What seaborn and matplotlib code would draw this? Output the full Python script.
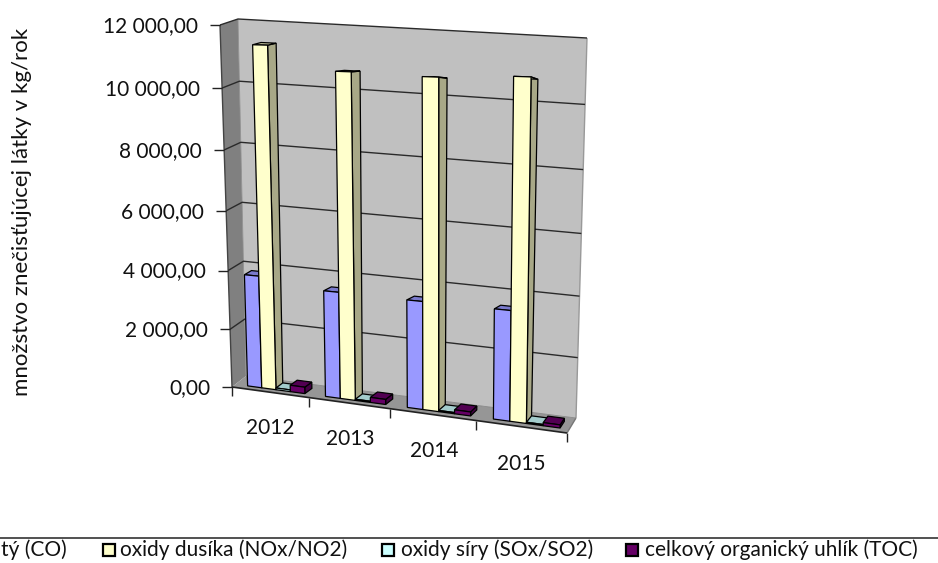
#!/usr/bin/env python3
# Excel style 3D clustered columns, redrawn with a perspective transform over seaborn bars
import numpy as np
import pandas as pd
import seaborn as sns
import matplotlib.pyplot as plt
from matplotlib.colors import to_rgb
from matplotlib.patches import Polygon, Rectangle
from matplotlib.transforms import Affine2D, Transform

W, H = 938, 563

years = ['2012', '2013', '2014', '2015']
# first legend entry is cut off by the picture edge, only its tail shows
series = ['tý (CO)', 'oxidy dusíka (NOx/NO2)', 'oxidy síry (SOx/SO2)', 'celkový organický uhlík (TOC)']
co = [3820, 3550, 3530, 3530]
nox = [11350, 10600, 10530, 10630]
sox = [60, 40, 40, 40]
toc = [220, 170, 130, 100]
colors = ['#9999FF', '#FFFFCC', '#CCFFFF', '#660066']
ytick_vals = [0, 2000, 4000, 6000, 8000, 10000, 12000]
ytick_labels = ['0,00', '2 000,00', '4 000,00', '6 000,00', '8 000,00', '10 000,00', '12 000,00']
ylabel = 'množstvo znečisťujúcej látky v kg/rok'

# box corners in picture pixels: bottom left, bottom right, top right, top left
front = np.array([[232, 387], [567, 433], [574, 28], [220, 25]], float)
back = np.array([[246, 376], [576, 418], [587, 38], [238, 19]], float)
xlim = (-0.5, 3.5)
ylim = (0, 12000)
bar_d0, bar_d1 = 0.25, 0.70
bar_shift = 0.03


def homography(src, dst):
    A, b = [], []
    for (x, y), (u, v) in zip(src, dst):
        A.append([x, y, 1, 0, 0, 0, -u * x, -u * y])
        A.append([0, 0, 0, x, y, 1, -v * x, -v * y])
        b += [u, v]
    return np.append(np.linalg.solve(np.array(A), np.array(b)), 1).reshape(3, 3)


class Plane(Transform):
    """data (category, value) to picture pixels on the plane at depth d"""
    input_dims = 2
    output_dims = 2
    is_affine = False

    def __init__(self, d):
        super().__init__()
        src = [(xlim[0], ylim[0]), (xlim[1], ylim[0]), (xlim[1], ylim[1]), (xlim[0], ylim[1])]
        self.m = homography(src, front + (back - front) * d)

    def transform_non_affine(self, xy):
        xy = np.asarray(xy, float)
        p = np.c_[xy, np.ones(len(xy))] @ self.m.T
        return p[:, :2] / p[:, 2:]


def pt(x, y, d):
    return Plane(d).transform_non_affine(np.array([[x, y]]))[0]


sns.set_theme(style='white')
plt.rcParams['font.family'] = ['Lato', 'DejaVu Sans']
fig = plt.figure(figsize=(W / 100, H / 100), dpi=100)
ax = fig.add_axes([0, 0, 1, 1])
to_fig = Affine2D().scale(1 / W, -1 / H).translate(0, 1) + fig.transFigure

df = pd.DataFrame({
    'year': years * 4,
    'series': np.repeat(series, 4),
    'value': co + nox + sox + toc,
})
sns.barplot(data=df, x='year', y='value', hue='series', order=years, hue_order=series,
            palette=colors, saturation=1, width=0.74, gap=0, edgecolor='black', linewidth=0.9,
            legend=False, ax=ax)
ax.set_xlim(*xlim)
ax.set_ylim(*ylim)
ax.axis('off')


def face(points, fc, ec='black', lw=0.9, z=1):
    ax.add_patch(Polygon(points, closed=True, fc=fc, ec=ec, lw=lw, zorder=z, transform=to_fig, clip_on=False))


def line(points, color='#2a2a2a', lw=1.0, z=2):
    p = np.array(points)
    ax.plot(p[:, 0], p[:, 1], color=color, lw=lw, zorder=z, transform=to_fig, clip_on=False, solid_capstyle='butt')


x0, x1 = xlim
y0, y1 = ylim
# walls and floor
face([pt(x0, y0, 1), pt(x1, y0, 1), pt(x1, y1, 1), pt(x0, y1, 1)], '#C0C0C0', ec='none')
face([pt(x0, y0, 0), pt(x0, y0, 1), pt(x0, y1, 1), pt(x0, y1, 0)], '#808080', ec='none')
face([pt(x0, y0, 0), pt(x1, y0, 0), pt(x1, y0, 1), pt(x0, y0, 1)], '#969696', ec='none')
line([pt(x0, y0, 0), pt(x0, y1, 0)], '#444444')
line([pt(x1, y0, 1), pt(x1, y1, 1)], '#999999')
line([pt(x1, y0, 0), pt(x1, y0, 1)], '#777777')
line([pt(x0, y0, 1), pt(x0, y1, 1)], '#909090', lw=0.6)
line([pt(x0, y0, 1), pt(x1, y0, 1)], '#888888', lw=0.6)
line([pt(x0, y0, 0), pt(x1, y0, 0)], '#222222', lw=1.2, z=3)

# gridlines and y ticks
for v, lab in zip(ytick_vals, ytick_labels):
    a, b, c = pt(x0, v, 0), pt(x0, v, 1), pt(x1, v, 1)
    if v > 0:
        line([a, b, c])
    line([a, a - (10, 0)], '#222222', z=3)
    ax.text(a[0] - 22, a[1] + 1, lab, transform=to_fig, ha='right', va='center', fontsize=15, color='#111111')

# category ticks and labels
for i in range(len(years) + 1):
    a = pt(x0 + i, y0, 0)
    line([a, a + (0, 9)], '#222222', z=3)
for yr, (tx, ty) in zip(years, [(270, 428), (350, 439), (434, 451), (521, 464)]):
    ax.text(tx, ty, yr, transform=to_fig, ha='center', va='center', fontsize=15, color='#111111')

# bars: seaborn rectangles go onto the plane, side and top faces follow from them
near = Plane(bar_d0)
for s, cont in enumerate(ax.containers):
    rgb = np.array(to_rgb(colors[s]))
    for c, r in enumerate(cont):
        z = 10 + c * 10 + s
        r.set_x(r.get_x() + bar_shift)
        r.set_transform(near + to_fig)
        r.set_clip_on(False)
        r.set_zorder(z + 0.2)
        bx0, bx1, top = r.get_x(), r.get_x() + r.get_width(), r.get_height()
        side = [pt(bx1, 0, bar_d0), pt(bx1, 0, bar_d1), pt(bx1, top, bar_d1), pt(bx1, top, bar_d0)]
        lid = [pt(bx0, top, bar_d0), pt(bx1, top, bar_d0), pt(bx1, top, bar_d1), pt(bx0, top, bar_d1)]
        face(side, rgb * 0.66, z=z + 0.1)
        face(lid, rgb * 0.8, z=z + 0.1)

# axis title
ax.text(22, 212, ylabel, transform=to_fig, rotation=90, ha='center', va='center', fontsize=16, color='#111111')

# legend strip, cut off on the left as in the picture
line([(0, 537.5), (W, 537.5)], '#333333', lw=1.2, z=5)
ax.text(67, 550, series[0], transform=to_fig, ha='right', va='center', fontsize=15, color='#111111')
for i, bx, tx in [(1, 103, 120), (2, 382, 401), (3, 626, 645)]:
    ax.add_patch(Rectangle((bx, 544), 12, 12, fc=colors[i], ec='black', lw=1.6, transform=to_fig, clip_on=False))
    ax.text(tx, 550, series[i], transform=to_fig, ha='left', va='center', fontsize=15, color='#111111')

fig.savefig('out.png', dpi=100)
